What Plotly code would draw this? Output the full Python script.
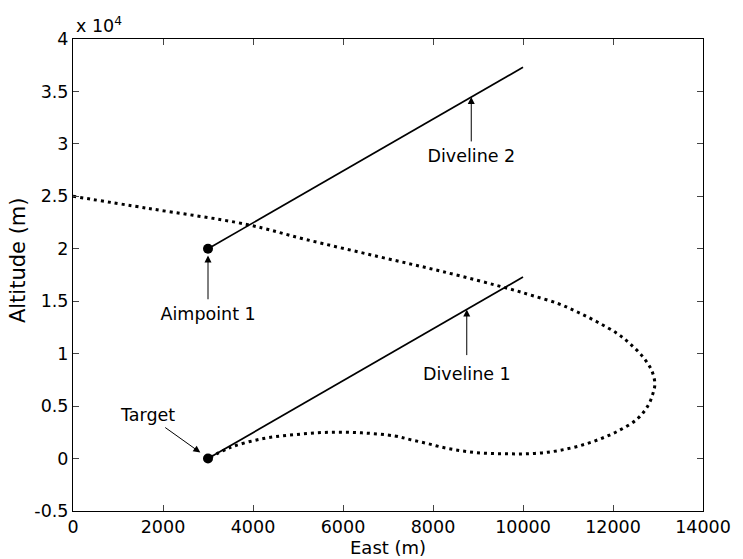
import plotly.graph_objects as go

# ---- data ----
traj_east = [0, 1670, 3860, 5170, 6770, 8230, 9690, 10200, 10790, 11220, 11660, 12100,
             12380, 12670, 12860, 12930, 12885, 12780, 12540, 12100, 11660, 11220, 10790,
             10420, 10040, 9690, 9320, 8950, 8600, 8230, 7860, 7500, 7150, 6420, 5670, 4950,
             4230, 3490, 3000]
traj_alt = [25000, 23850, 22320, 20890, 19270, 17810, 16190, 15550, 14760, 13950, 13000, 11900,
            10940, 9660, 8390, 7120, 6170, 5060, 3780, 2600, 1780, 1170, 760,
            540, 450, 450, 480, 570, 760, 1050, 1450, 1800, 2150, 2450, 2500, 2290,
            1910, 1050, 0]

dive1_east = [3000, 10000]
dive1_alt = [0, 17300]
dive2_east = [3000, 10000]
dive2_alt = [20000, 37300]

points_east = [3000, 3000]
points_alt = [0, 20000]

x_ticks = [0, 2000, 4000, 6000, 8000, 10000, 12000, 14000]
y_tickvals = [-5000, 0, 5000, 10000, 15000, 20000, 25000, 30000, 35000, 40000]
y_ticktext = ["-0.5", "0", "0.5", "1", "1.5", "2", "2.5", "3", "3.5", "4"]

# annotation anchors: (label, head_x, head_y, text_x, text_y)
labels = [
    ("Diveline 2", 8850, 34460, 8850, 28900),
    ("Diveline 1", 8750, 14210, 8750, 8100),
    ("Aimpoint 1", 3000, 19370, 3000, 13850),
    ("Target", 2830, 570, 1660, 4150),
]
pads = [3.5, 8, 3.5, 2]

FONT = "DejaVu Sans"

fig = go.Figure()
fig.add_trace(go.Scatter(x=traj_east, y=traj_alt, mode="lines",
                         line=dict(color="black", width=3, dash="3px,4px", shape="spline", smoothing=1.0),
                         showlegend=False, hoverinfo="skip"))
fig.add_trace(go.Scatter(x=dive1_east, y=dive1_alt, mode="lines",
                         line=dict(color="black", width=1.7), showlegend=False))
fig.add_trace(go.Scatter(x=dive2_east, y=dive2_alt, mode="lines",
                         line=dict(color="black", width=1.7), showlegend=False))
fig.add_trace(go.Scatter(x=points_east, y=points_alt, mode="markers",
                         marker=dict(color="black", size=10), showlegend=False))

anns = []
for (lab, hx, hy, lx, ly), pad in zip(labels, pads):
    anns.append(dict(x=hx, y=hy, ax=lx, ay=ly, xref="x", yref="y", axref="x", ayref="y",
                     text=lab, showarrow=True, arrowhead=2, arrowsize=1.4, arrowwidth=1,
                     arrowcolor="black", standoff=0, borderpad=pad,
                     font=dict(family=FONT, size=17.5, color="black")))

anns.append(dict(x=0.0015, y=1.003, xref="paper", yref="paper", text="x 10<sup>4</sup>",
                 showarrow=False, xanchor="left", yanchor="bottom",
                 font=dict(family=FONT, size=17.5, color="black")))
anns.append(dict(x=0.5, y=-0.078, xref="paper", yref="paper", text="East (m)",
                 showarrow=False, xanchor="center", yanchor="middle",
                 font=dict(family=FONT, size=18, color="black")))
anns.append(dict(x=-0.087, y=0.532, xref="paper", yref="paper", text="Altitude (m)",
                 showarrow=False, xanchor="center", yanchor="middle", textangle=-90,
                 font=dict(family=FONT, size=21, color="black")))

fig.update_layout(
    width=743, height=559,
    margin=dict(l=73, r=29, t=39, b=48),
    paper_bgcolor="white", plot_bgcolor="white",
    font=dict(family=FONT, size=17.5, color="black"),
    annotations=anns,
    showlegend=False,
)
fig.update_xaxes(range=[0, 14000], tickvals=x_ticks, ticktext=[str(v) for v in x_ticks],
                 showgrid=False, zeroline=False, showline=True, linecolor="black", linewidth=1,
                 mirror="ticks", ticks="inside", ticklen=6, tickcolor="#444", tickwidth=1)
fig.update_yaxes(range=[-5000, 40000], tickvals=y_tickvals, ticktext=y_ticktext,
                 showgrid=False, zeroline=False, showline=True, linecolor="black", linewidth=1,
                 mirror="ticks", ticks="inside", ticklen=6, tickcolor="#444", tickwidth=1)

fig.write_html("out.html")
